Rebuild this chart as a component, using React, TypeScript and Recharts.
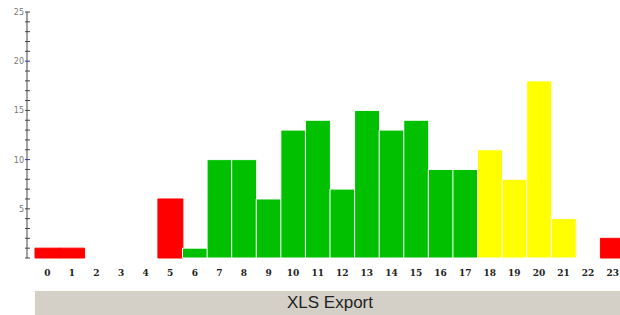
import { BarChart, Bar, XAxis, YAxis, Cell } from 'recharts'

const hours = ['0', '1', '2', '3', '4', '5', '6', '7', '8', '9', '10', '11', '12', '13', '14', '15', '16', '17', '18', '19', '20', '21', '22', '23']
const counts = [1, 1, 0, 0, 0, 6, 1, 10, 10, 6, 13, 14, 7, 15, 13, 14, 9, 9, 11, 8, 18, 4, 0, 2]
const yTicks = [0, 1, 2, 3, 4, 5, 6, 7, 8, 9, 10, 11, 12, 13, 14, 15, 16, 17, 18, 19, 20, 21, 22, 23, 24, 25]
const yLabels = ['5', '10', '15', '20', '25']

const RED = '#ff0000'
const GREEN = '#00c000'
const YELLOW = '#ffff00'

const AXIS_X = 27

function barColor(hour: number) {
  if (hour < 6 || hour > 21) return RED
  if (hour < 18) return GREEN
  return YELLOW
}

const data = hours.map((h, i) => ({ hour: h, count: counts[i] }))

function YTick(props: any) {
  const { y, payload } = props
  const v = String(payload.value)
  const major = yLabels.includes(v)
  const blue = v === '10' || v === '20'
  return (
    <g>
      <line x1={AXIS_X - 2} x2={AXIS_X + 3} y1={y} y2={y} stroke={blue ? '#3333aa' : '#444'} strokeWidth={1} />
      {major && (
        <text x={AXIS_X - 3} y={y + 3} textAnchor="end" fontSize={8} fill="#777" fontFamily="DejaVu Sans">
          {v}
        </text>
      )}
    </g>
  )
}

function XTick(props: any) {
  const { x, y, payload } = props
  return (
    <text x={x} y={y + 10} textAnchor="middle" fontSize={9} fontWeight="bold" fill="#222" fontFamily="DejaVu Serif">
      {payload.value}
    </text>
  )
}

export default function App() {
  return (
    <div style={{ position: 'absolute', left: 0, top: 0, width: 620, height: 315, overflow: 'hidden', background: '#fff' }}>
      <BarChart
        width={625}
        height={282}
        data={data}
        margin={{ top: 12, right: 0, left: 0, bottom: 0 }}
        barCategoryGap={0}
      >
        <XAxis
          dataKey="hour"
          axisLine={false}
          tickLine={false}
          interval={0}
          height={24}
          padding={{ left: 8, right: 0 }}
          tick={<XTick />}
        />
        <YAxis
          width={AXIS_X}
          domain={[0, 25]}
          ticks={yTicks}
          interval={0}
          axisLine={{ stroke: '#444' }}
          tickLine={false}
          tick={<YTick />}
        />
        <Bar dataKey="count" isAnimationActive={false}>
          {data.map((d, i) => {
            const c = barColor(i)
            return <Cell key={i} fill={c} stroke={c === RED ? c : '#ffffff'} strokeWidth={1} />
          })}
        </Bar>
      </BarChart>
      <div
        style={{
          position: 'absolute',
          left: 35,
          top: 291,
          width: 590,
          height: 24,
          background: '#d4d0c8',
          color: '#222',
          fontFamily: 'Liberation Sans, Arial, sans-serif',
          fontSize: 17,
          lineHeight: '24px',
          textAlign: 'center',
        }}
      >
        XLS Export
      </div>
    </div>
  )
}
